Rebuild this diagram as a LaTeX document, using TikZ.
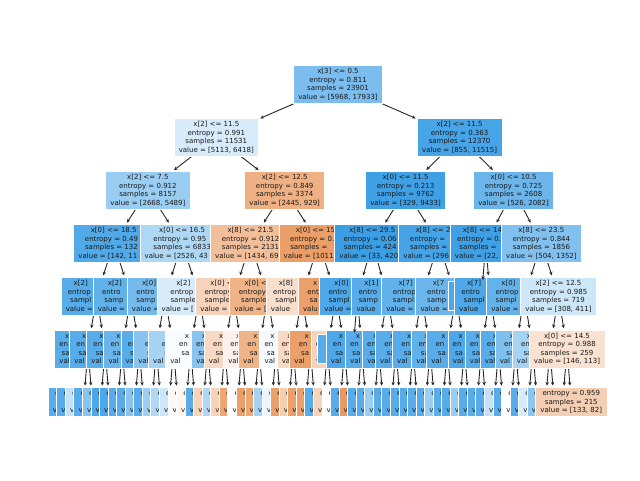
\documentclass[tikz,border=0pt]{standalone}
\usepackage{fontspec}
\setmainfont{DejaVu Sans}
\usetikzlibrary{arrows.meta}
\definecolor{cB}{RGB}{57,157,229}
\definecolor{cO}{RGB}{229,129,57}
\newcommand\ph[1]{\phantom{#1}}
\tikzset{
  tbox/.style={draw=white, line width=0.6pt, inner xsep=4.8pt, inner ysep=0pt, minimum height=38pt, align=center, font=\fontsize{7}{8.5}\selectfont, text=black!90},
  lbox/.style={tbox, minimum height=29pt},
  arr/.style={-{Stealth[length=3.6pt,width=3.4pt]}, line width=0.9pt, draw=black!85, shorten >=1.5pt},
}
\begin{document}
\begin{tikzpicture}[x=1pt,y=-1pt]
\useasboundingbox (0,0) rectangle (640,480);
% parent positions
\coordinate (c0) at (338.0,84.5);
\coordinate (c1a) at (216.3,137.4); \coordinate (c1b) at (459.6,137.4);
\coordinate (c2a) at (147.9,190.3); \coordinate (c2b) at (284.7,190.3);
\coordinate (c2c) at (405.6,190.3); \coordinate (c2d) at (513.6,190.3);
\coordinate (c3a) at (113.7,243.2); \coordinate (c3b) at (182.1,243.2);
\coordinate (c3c) at (250.5,243.2); \coordinate (c3d) at (318.9,243.2);
\coordinate (c3e) at (372.4,243.2); \coordinate (c3f) at (438.7,243.2);
\coordinate (c3g) at (485.8,243.2); \coordinate (c3h) at (541.4,243.2);
\foreach \n/\x in {a/96.6,b/130.8,c/165.0,d/199.2,e/233.4,f/267.6,g/301.8,h/336.1,i/357.4,j/387.4,k/421.6,l/455.8,m/481.5,n/490.0,o/524.3,p/558.5}
  {\coordinate (c4\n) at (\x,296.1);}
\foreach \k in {0,...,28} {\coordinate (c5-\k) at ({88+17.107*\k},349);}
\coordinate (c5-lf) at (353.2,349);
% level 6 (leaves)
\foreach \col [count=\j from 0] in {cB!85,cB!85,cB!30,cB!85,cB!60,cB!90,cB!90,cB!85,cB!85,cB!60,cB!85,cB!50,cB!40,cB!25,cO!5,cO!8,cB!85,cO!35,cB!40,cO!35,cO!70,cO!0,cO!75,cO!70,cB!45,cB!10,cO!75,cO!40,cO!75,cO!75,cB!85,cO!35,cB!0,cB!85,cO!80,cB!85,cB!85,cB!50,cB!85,cB!85,cB!85,cB!85,cB!85,cB!85,cB!50,cB!85,cB!85,cB!50,cB!85,cB!85,cB!85,cB!30,cB!85,cB!0,cB!85,cB!20,cB!58}
  {\node[lbox, fill=\col] (n6-\j) at ({83.72+8.5535*\j},401.9) {e\ph{ntropy = 0.000}\\s\ph{amples = 00}\\v\ph{alue = [000, 00]}};}
\node[lbox, fill=cO!38] (n6-57) at (571.28,401.9) {entropy = 0.959\\samples = 215\\value = [133, 82]};
\foreach \j in {0,...,57} {\pgfmathtruncatemacro\k{floor(\j/2)}\draw[arr] (c5-\k) -- (n6-\j);}
% level 5
\foreach \k/\col/\vv in {0/cB!85/{00, 00},1/cB!85/{00, 000},2/cB!85/{00, 000},3/cB!75/{00, 000},4/cB!85/{00, 000},5/cB!60/{000, 0000},6/cB!45/{0000, 0000},7/cB!3/{0000, 0000},8/cB!60/{00, 00},9/cO!30/{000, 000},10/cO!10/{00, 000},11/cO!60/{000, 000},12/cB!5/{00, 00},13/cO!30/{00, 00},14/cO!75/{000, 000},15/cO!35/{00, 00}}
  {\node[tbox, fill=\col] (n5-\k) at ({88+17.107*\k},349) {x\ph{[0] <= 00.5}\\en\ph{tropy = 0.000}\\sa\ph{mples = 000}\\val\ph{ue = [\vv]}};}
\node[lbox, fill=cB!85] (n5-lf) at (353.2,349) {\ph{entropy = 0.000}\\\ph{samples = 000}\\\ph{value = [00, 000]}};
\foreach \k/\col/\vv in {16/cB!90/{00, 000},17/cB!85/{00, 00},18/cB!85/{00, 00},19/cB!85/{000, 000},20/cB!85/{000, 000},21/cB!80/{00, 000},22/cB!85/{000, 000},23/cB!90/{00, 00},24/cB!85/{00, 00},25/cB!85/{00, 000},26/cB!65/{000, 000},27/cB!45/{000, 000}}
  {\node[tbox, fill=\col] (n5-\k) at ({88+17.107*\k},349) {x\ph{[0] <= 00.5}\\en\ph{tropy = 0.000}\\sa\ph{mples = 000}\\val\ph{ue = [\vv]}};}
\node[tbox, fill=cO!23] (n5-28) at (567.0,349) {x[0] <= 14.5\\entropy = 0.988\\samples = 259\\value = [146, 113]};
\foreach \k/\p in {0/a,1/a,2/b,3/b,4/c,5/c,6/d,7/d,8/e,9/e,10/f,11/f,12/g,13/g,14/h,15/h,16/i,17/j,18/j,19/k,20/k,21/l,22/l,23/n,24/n,25/o,26/o,27/p,28/p}
  {\draw[arr] (c4\p) -- (n5-\k);}
\draw[arr] (c4i) -- (n5-lf);
% level 4
\node[tbox, fill=cB!85] (n4a) at (96.6,296.1) {x[2]\ph{ <= 00.5}\\entrop\ph{y = 0.000}\\sampl\ph{es = 000}\\value =\ph{ [00, 000]}};
\node[tbox, fill=cB!80] (n4b) at (130.8,296.1) {x[2]\ph{ <= 00.5}\\entro\ph{py = 0.000}\\samp\ph{les = 000}\\value =\ph{ [00, 0000]}};
\node[tbox, fill=cB!70] (n4c) at (165.0,296.1) {x[0]\ph{ <= 00.5}\\entro\ph{py = 0.000}\\samp\ph{les = 0000}\\value =\ph{ [000, 000]}};
\node[tbox, fill=cB!20] (n4d) at (199.2,296.1) {x[2]\ph{ <= 00.5}\\entrop\ph{y = 0.000}\\sample\ph{s = 0000}\\value = [\ph{0000, 0000]}};
\node[tbox, fill=cO!35] (n4e) at (233.4,296.1) {x[0] <\ph{= 00.5}\\entropy\ph{ = 0.000}\\sample\ph{s = 0000}\\value =\ph{ [000, 000]}};
\node[tbox, fill=cO!60] (n4f) at (267.6,296.1) {x[0] <\ph{= 00.5}\\entropy\ph{ = 0.000}\\sample\ph{s = 000}\\value = [\ph{000, 000]}};
\node[tbox, fill=cO!25] (n4g) at (301.8,296.1) {x[8]\ph{ <= 00.5}\\entrop\ph{y = 0.000}\\sampl\ph{es = 000}\\value\ph{ = [000, 00]}};
\node[tbox, fill=cO!75] (n4h) at (336.1,296.1) {x\ph{[0] <= 00.5}\\ent\ph{ropy = 0.000}\\sa\ph{mples = 000}\\valu\ph{e = [000, 000]}};
\node[tbox, fill=cB!90] (n4i) at (357.4,296.1) {x[0]\ph{ <= 00.5}\\entro\ph{py = 0.000}\\sampl\ph{es = 0000}\\value =\ph{ [00, 0000]}};
\node[tbox, fill=cB!85] (n4j) at (387.4,296.1) {x[1]\ph{ <= 00.5}\\entro\ph{py = 0.000}\\samp\ph{les = 0000}\\value\ph{ = [00, 000]}};
\node[tbox, fill=cB!80] (n4k) at (421.6,296.1) {x[7]\ph{ <= 00.5}\\entrop\ph{y = 0.000}\\sampl\ph{es = 0000}\\value =\ph{ [000, 0000]}};
\node[tbox, fill=cB!75] (n4l) at (455.8,296.1) {x[7\ph{] <= 00.5}\\entro\ph{py = 0.000}\\samp\ph{les = 0000}\\value =\ph{ [000, 0000]}};
\node[lbox, fill=cB!90] (n4m) at (481.5,296.1) {\ph{entropy = 0.000}\\\ph{samples = 000}\\\ph{value = [0, 000]}};
\node[tbox, fill=cB!90] (n4n) at (490.0,296.1) {x[7]\ph{ <= 00.5}\\entro\ph{py = 0.000}\\sampl\ph{es = 000}\\value\ph{ = [00, 000]}};
\node[tbox, fill=cB!79] (n4o) at (524.3,296.1) {x[0]\ph{ <= 00.5}\\entrop\ph{y = 0.000}\\sampl\ph{es = 0000}\\value =\ph{ [000, 000]}};
\node[tbox, fill=cB!25] (n4p) at (558.5,296.1) {x[2] <= 12.5\\entropy = 0.985\\samples = 719\\value = [308, 411]};
\foreach \c/\p in {a/a,b/a,c/b,d/b,e/c,f/c,g/d,h/d,i/e,j/e,k/f,l/f,m/g,n/g,o/h,p/h}
  {\draw[arr] (c3\p) -- (n4\c);}
% level 3
\node[tbox, fill=cB!88] (n3a) at (113.7,243.2) {x[0] <= 18.5\\entropy = 0.49\ph{1}\\samples = 132\ph{4}\\value = [142, 11\ph{82]}};
\node[tbox, fill=cB!41] (n3b) at (182.1,243.2) {x[0] <= 16.5\\entropy = 0.95\ph{0}\\samples = 6833\\value = [2526, 43\ph{07]}};
\node[tbox, fill=cO!51] (n3c) at (250.5,243.2) {x[8] <= 21.5\\entropy = 0.912\\samples = 2131\\value = [1434, 69\ph{7]}};
\node[tbox, fill=cO!77] (n3d) at (318.9,243.2) {x[0] <= 15\ph{.5}\\entropy = 0.\ph{694}\\samples = \ph{1243}\\value = [1011\ph{, 232]}};
\node[tbox, fill=cB!99] (n3e) at (372.4,243.2) {x[8] <= 29.5\\entropy = 0.06\ph{0}\\samples = 424\ph{0}\\value = [33, 420\ph{0]}};
\node[tbox, fill=cB!94] (n3f) at (438.7,243.2) {x[8] <= 2\ph{0.5}\\entropy = \ph{0.000}\\samples = \ph{0000}\\value = [296\ph{, 0000]}};
\node[tbox, fill=cB!97] (n3g) at (485.8,243.2) {x[8] <= 14\ph{.5}\\entropy = 0.\ph{000}\\samples = \ph{752}\\value = [22,\ph{ 730]}};
\node[tbox, fill=cB!63] (n3h) at (541.4,243.2) {x[8] <= 23.5\\entropy = 0.844\\samples = 1856\\value = [504, 1352]};
\foreach \c/\p in {a/a,b/a,c/b,d/b,e/c,f/c,g/d,h/d}
  {\draw[arr] (c2\p) -- (n3\c);}
% level 2
\node[tbox, fill=cB!51] (n2a) at (147.9,190.3) {x[2] <= 7.5\\entropy = 0.912\\samples = 8157\\value = [2668, 5489]};
\node[tbox, fill=cO!62] (n2b) at (284.7,190.3) {x[2] <= 12.5\\entropy = 0.849\\samples = 3374\\value = [2445, 929]};
\node[tbox, fill=cB!97] (n2c) at (405.6,190.3) {x[0] <= 11.5\\entropy = 0.213\\samples = 9762\\value = [329, 9433]};
\node[tbox, fill=cB!75] (n2d) at (513.6,190.3) {x[0] <= 10.5\\entropy = 0.725\\samples = 2608\\value = [526, 2082]};
\foreach \c/\p in {a/a,b/a,c/b,d/b}
  {\draw[arr] (c1\p) -- (n2\c);}
% level 1
\node[tbox, fill=cB!20] (n1a) at (216.3,137.4) {x[2] <= 11.5\\entropy = 0.991\\samples = 11531\\value = [5113, 6418]};
\node[tbox, fill=cB!93] (n1b) at (459.6,137.4) {x[2] <= 11.5\\entropy = 0.363\\samples = 12370\\value = [855, 11515]};
\draw[arr] (c0) -- (n1a);
\draw[arr] (c0) -- (n1b);
% root
\node[tbox, fill=cB!67] (n0) at (338.0,84.5) {x[3] <= 0.5\\entropy = 0.811\\samples = 23901\\value = [5968, 17933]};
\end{tikzpicture}
\end{document}
